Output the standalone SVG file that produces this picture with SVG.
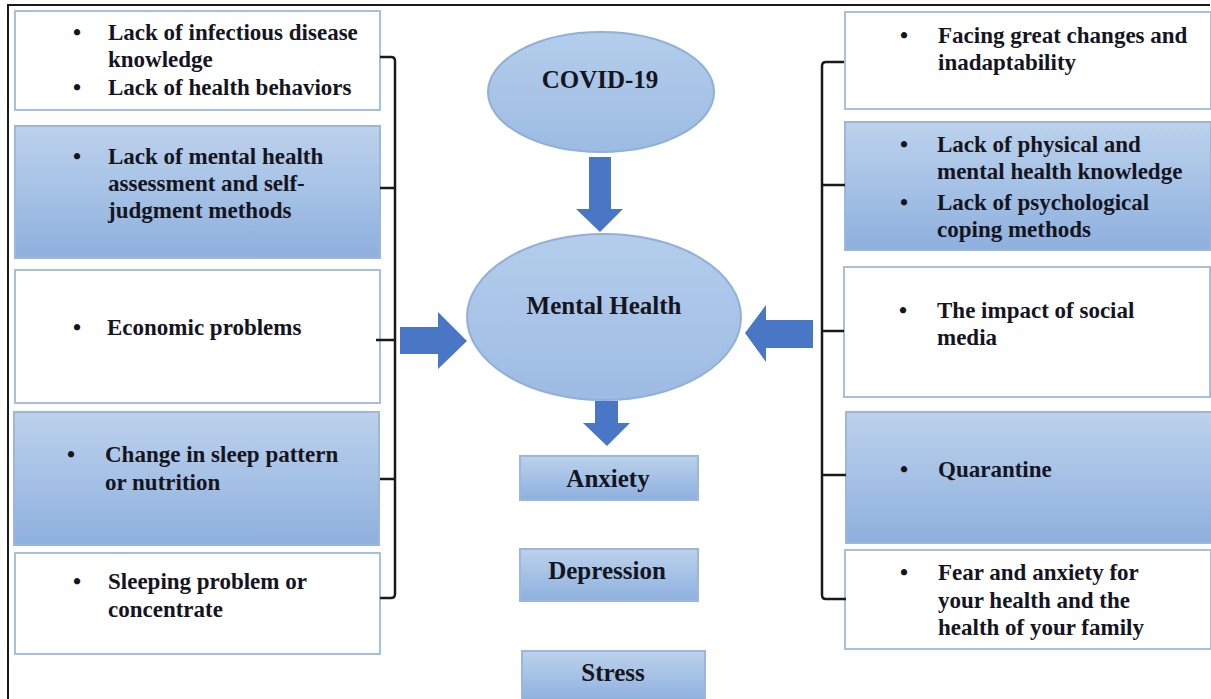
<svg xmlns="http://www.w3.org/2000/svg" width="1211" height="699" viewBox="0 0 1211 699" font-family="Liberation Serif, serif" font-weight="bold">
<defs>
<linearGradient id="blueGrad" x1="0" y1="0" x2="0" y2="1">
<stop offset="0" stop-color="#bcd2ec"/>
<stop offset="1" stop-color="#8eb0de"/>
</linearGradient>
<linearGradient id="ellGrad" x1="0" y1="0" x2="0" y2="1">
<stop offset="0" stop-color="#b4cdeb"/>
<stop offset="1" stop-color="#9dbbe3"/>
</linearGradient>
<style>
.white{fill:#ffffff;stroke:#a8c0dc;stroke-width:2}
.blue{fill:url(#blueGrad);stroke:#9bb7da;stroke-width:2}
.ell{fill:url(#ellGrad);stroke:#8fb0da;stroke-width:2}
.arrow{fill:#4a76c6}
.t{font-size:23px;fill:#15151f}
.c{font-size:25px;fill:#15151f;text-anchor:middle}
.b{font-size:23px;fill:#15151f;text-anchor:middle}
.br{fill:none;stroke:#1a1a1a;stroke-width:2.5}
.frame{fill:none;stroke:#1a1a1a;stroke-width:2}
</style>
</defs>
<rect x="0" y="0" width="1211" height="699" fill="#ffffff"/>
<path class="frame" d="M8,699 L8,5 L1210,5"/>

<g id="left1">
<rect class="white" x="15" y="11" width="365" height="99"/>
<text class="b" x="77" y="40">•</text>
<text class="t" x="108" y="40">Lack of infectious disease</text>
<text class="t" x="108" y="67">knowledge</text>
<text class="b" x="77" y="95">•</text>
<text class="t" x="108" y="95">Lack of health behaviors</text>
</g>
<g id="left2">
<rect class="blue" x="15" y="126" width="365" height="132"/>
<text class="b" x="77" y="164">•</text>
<text class="t" x="108" y="164">Lack of mental health</text>
<text class="t" x="108" y="191">assessment and self-</text>
<text class="t" x="108" y="218">judgment methods</text>
</g>
<g id="left3">
<rect class="white" x="15" y="270" width="365" height="133"/>
<text class="b" x="77" y="335">•</text>
<text class="t" x="107" y="335">Economic problems</text>
</g>
<g id="left4">
<rect class="blue" x="14" y="412" width="365" height="133"/>
<text class="b" x="71" y="462">•</text>
<text class="t" x="105" y="462">Change in sleep pattern</text>
<text class="t" x="105" y="490">or nutrition</text>
</g>
<g id="left5">
<rect class="white" x="15" y="553" width="365" height="101"/>
<text class="b" x="77" y="589">•</text>
<text class="t" x="108" y="589">Sleeping problem or</text>
<text class="t" x="108" y="617">concentrate</text>
</g>

<g id="right1">
<rect class="white" x="845" y="12" width="366" height="97"/>
<text class="b" x="904" y="43">•</text>
<text class="t" x="938" y="43">Facing great changes and</text>
<text class="t" x="938" y="70">inadaptability</text>
</g>
<g id="right2">
<rect class="blue" x="845" y="122" width="366" height="128"/>
<text class="b" x="904" y="152">•</text>
<text class="t" x="937" y="152">Lack of physical and</text>
<text class="t" x="937" y="179">mental health knowledge</text>
<text class="b" x="904" y="210">•</text>
<text class="t" x="937" y="210">Lack of psychological</text>
<text class="t" x="937" y="237">coping methods</text>
</g>
<g id="right3">
<rect class="white" x="844" y="267" width="366" height="130"/>
<text class="b" x="903" y="318">•</text>
<text class="t" x="937" y="318">The impact of social</text>
<text class="t" x="937" y="345">media</text>
</g>
<g id="right4">
<rect class="blue" x="846" y="412" width="366" height="131"/>
<text class="b" x="904" y="477">•</text>
<text class="t" x="938" y="477">Quarantine</text>
</g>
<g id="right5">
<rect class="white" x="845" y="550" width="366" height="99"/>
<text class="b" x="904" y="580">•</text>
<text class="t" x="938" y="580">Fear and anxiety for</text>
<text class="t" x="938" y="608">your health and the</text>
<text class="t" x="938" y="635">health of your family</text>
</g>

<g id="covid">
<ellipse class="ell" cx="601" cy="92" rx="113" ry="60"/>
<text class="c" x="600" y="88">COVID-19</text>
</g>
<g id="mental">
<ellipse class="ell" cx="604" cy="317" rx="137" ry="83"/>
<text class="c" x="604" y="314">Mental Health</text>
</g>
<g id="anxiety">
<rect class="blue" x="520" y="456" width="178" height="44"/>
<text class="c" x="608" y="487">Anxiety</text>
</g>
<g id="depression">
<rect class="blue" x="520" y="549" width="178" height="52"/>
<text class="c" x="607" y="579">Depression</text>
</g>
<g id="stress">
<rect class="blue" x="522" y="651" width="183" height="50"/>
<text class="c" x="613" y="681">Stress</text>
</g>

<g id="connectors">
<path class="br" d="M380,57 L391,57 Q395,57 395,61 L395,594 Q395,598 391,598 L380,598"/>
<path class="br" d="M380,188 L395,188 M376,340 L395,340 M380,479 L395,479"/>
<path class="br" d="M844,62 L826,62 Q822,62 822,66 L822,595 Q822,599 826,599 L846,599"/>
<path class="br" d="M822,185 L845,185 M822,331 L844,331 M822,475 L846,475"/>
<polygon class="arrow" points="589,157 611,157 611,209 623,209 600,232 576,209 589,209"/>
<polygon class="arrow" points="595,401 618,401 618,423 630,423 607,446 583,423 595,423"/>
<polygon class="arrow" points="400,327 438,327 438,312 467,341 438,369 438,354 400,354"/>
<polygon class="arrow" points="813,320 766,320 766,305 745,333 766,362 766,348 813,348"/>
</g>
</svg>
